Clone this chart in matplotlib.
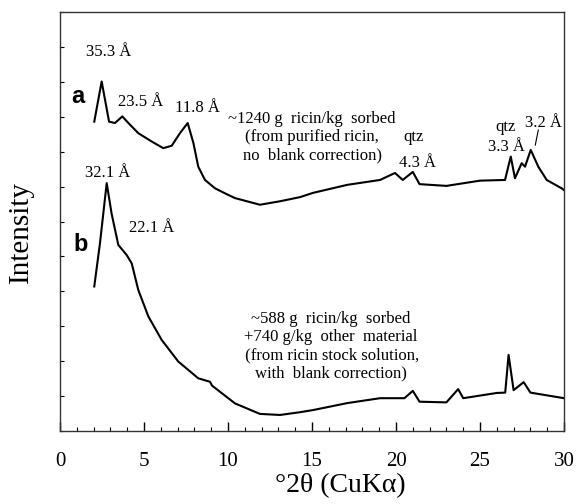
import matplotlib.pyplot as plt
from matplotlib.ticker import MultipleLocator, NullFormatter

# XRD trace a (~1240 g ricin/kg, purified ricin)
two_theta_a = [2.04, 2.48, 2.92, 3.27, 3.71, 4.07, 4.66, 5.46, 6.15, 6.65, 7.14, 7.6,
               7.94, 8.23, 8.63, 9.23, 10.02, 10.42, 11.9, 13.1, 14.3, 15.06, 17.1,
               19.05, 19.94, 20.4, 21.0, 21.4, 23.0, 25.0, 26.49, 26.83, 27.08, 27.48,
               27.68, 28.02, 28.47, 28.97, 29.86, 30.0]
intensity_a = [8.86, 10.01, 8.86, 8.82, 9.01, 8.82, 8.53, 8.29, 8.10, 8.17, 8.53, 8.82,
               8.25, 7.57, 7.19, 6.95, 6.76, 6.67, 6.48, 6.58, 6.70, 6.82, 7.05,
               7.19, 7.39, 7.19, 7.42, 7.07, 7.02, 7.17, 7.19, 7.86, 7.24, 7.67,
               7.57, 8.05, 7.57, 7.19, 6.95, 6.90]

# XRD trace b (~588 g ricin/kg, ricin stock solution)
two_theta_b = [2.04, 2.38, 2.78, 3.07, 3.47, 3.97, 4.27, 4.66, 5.26, 6.05, 7.04, 8.23,
               8.93, 9.05, 10.42, 11.9, 13.1, 14.3, 15.06, 17.1, 19.05, 20.5, 21.0,
               21.4, 23.0, 23.7, 24.0, 26.0, 26.5, 26.7, 27.0, 27.6, 28.0, 30.0]
intensity_b = [4.14, 5.38, 7.10, 6.23, 5.33, 5.04, 4.80, 4.04, 3.28, 2.61, 1.99, 1.51,
               1.41, 1.30, 0.79, 0.49, 0.46, 0.54, 0.60, 0.80, 0.94, 0.94, 1.15,
               0.84, 0.82, 1.20, 0.94, 1.09, 1.10, 2.18, 1.17, 1.40, 1.10, 0.94]

serif = 'Liberation Serif'
plt.rcParams['font.family'] = serif

fig = plt.figure(figsize=(5.78, 5.04), dpi=100)
ax = fig.add_axes([0.1038, 0.1448, 0.8720, 0.8314])

ax.plot(two_theta_a, intensity_a, color='black', lw=1.5)
ax.plot(two_theta_b, intensity_b, color='black', lw=1.5)

ax.set_xlim(0, 30)
ax.set_ylim(0, 12)
ax.xaxis.set_major_locator(MultipleLocator(5))
ax.xaxis.set_minor_locator(MultipleLocator(1))
ax.yaxis.set_major_locator(MultipleLocator(1))
ax.yaxis.set_major_formatter(NullFormatter())
ax.tick_params(axis='x', which='major', direction='in', length=6.5, width=1,
               labelsize=15, pad=15)
ax.tick_params(axis='x', which='minor', direction='in', length=3, width=0.8)
ax.tick_params(axis='y', which='major', direction='in', length=3, width=0.8)
for s in ax.spines.values():
    s.set_linewidth(1)
    s.set_color('#333333')

ax.set_xlabel('°2θ (CuKα)', fontsize=20)
ax.xaxis.set_label_coords(0.556, -0.1)
ax.set_ylabel('Intensity', fontsize=21)
ax.yaxis.set_label_coords(-0.052, 0.475)

fs = 12
# peak labels, trace a
ax.text(2.9, 10.86, '35.3 Å', fontsize=fs, ha='center', va='center')
ax.text(4.8, 9.43, '23.5 Å', fontsize=fs, ha='center', va='center')
ax.text(8.2, 9.25, '11.8 Å', fontsize=fs, ha='center', va='center')
ax.text(15.0, 8.42, '~1240 g  ricin/kg  sorbed\n(from purified ricin,\nno  blank correction)',
        fontsize=fs, ha='center', va='center', linespacing=1.2)
ax.text(21.07, 8.43, 'qtz', fontsize=fs, ha='center', va='center')
ax.text(21.25, 7.68, '4.3 Å', fontsize=fs, ha='center', va='center')
ax.text(26.5, 8.71, 'qtz', fontsize=fs, ha='center', va='center')
ax.text(26.6, 8.14, '3.3 Å', fontsize=fs, ha='center', va='center')
ax.text(28.8, 8.82, '3.2 Å', fontsize=fs, ha='center', va='center')
ax.plot([28.47, 28.29], [8.62, 8.19], color='black', lw=0.8)

# peak labels, trace b
ax.text(2.86, 7.39, '32.1 Å', fontsize=fs, ha='center', va='center')
ax.text(5.47, 5.81, '22.1 Å', fontsize=fs, ha='center', va='center')
ax.text(16.1, 2.43, '~588 g  ricin/kg  sorbed\n+740 g/kg  other  material\n'
        ' (from ricin stock solution,\nwith  blank correction)',
        fontsize=fs, ha='center', va='center', linespacing=1.2)

# trace labels
ax.text(1.07, 9.57, 'a', fontsize=17, fontweight='bold', family='Liberation Sans',
        ha='center', va='center')
ax.text(1.25, 5.33, 'b', fontsize=17, fontweight='bold', family='Liberation Sans',
        ha='center', va='center')

fig.savefig('out.png', dpi=100)
